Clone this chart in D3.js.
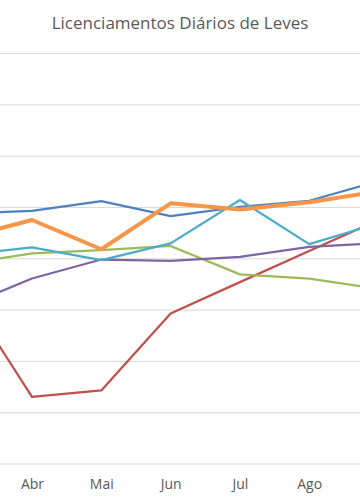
<!DOCTYPE html>
<html>
<head>
<meta charset="utf-8">
<script src="https://cdn.jsdelivr.net/npm/d3@7"></script>
<style>
  body { margin: 0; background: #fff; }
  svg { display: block; font-family: "Open Sans", "Liberation Sans", sans-serif; }
</style>
</head>
<body>
<div id="chart"></div>
<script>
// months (Mar and Set fall just outside the visible crop)
const months = ["Mar", "Abr", "Mai", "Jun", "Jul", "Ago", "Set"];
const visibleMonths = ["Abr", "Mai", "Jun", "Jul", "Ago"];

// series values
const serieAzul    = [4870, 4925, 5115, 4820, 5000, 5120, 5505];
const serieVermelha = [3400, 1300, 1425, 2925, 3535, 4140, 4745];
const serieVerde   = [3885, 4095, 4160, 4240, 3685, 3605, 3405];
const serieRoxa    = [3045, 3605, 3975, 3950, 4025, 4220, 4295];
const serieAqua    = [4070, 4210, 3965, 4290, 5135, 4275, 4680];
const serieLaranja = [4395, 4745, 4175, 5070, 4950, 5090, 5305];

const yTicks = [0, 1000, 2000, 3000, 4000, 5000, 6000, 7000, 8000];

function getConfig(){
    let width = 360, height = 504;
    let plot = {};
    plot.top = 53;
    plot.bottom = 463.5;
    plot.xFirst = -37.3;   // position of "Mar"
    plot.xLast = 378.5;    // position of "Set"
    plot.gridColor = "#d9d9d9";
    plot.textColor = "#595959";
    return {width, height, plot};
}

function draw(){
    const config = getConfig();
    const series = [
        {name: "azul", values: serieAzul, color: "#4f81bd", w: 2.25},
        {name: "vermelha", values: serieVermelha, color: "#c0504d", w: 2.25},
        {name: "verde", values: serieVerde, color: "#9bbb59", w: 2.25},
        {name: "roxa", values: serieRoxa, color: "#8064a2", w: 2.25},
        {name: "aqua", values: serieAqua, color: "#4bacc6", w: 2.25},
        {name: "laranja", values: serieLaranja, color: "#f79646", w: 4}
    ];

    let svg = d3.select("#chart").append("svg")
        .attr("width", config.width)
        .attr("height", config.height);

    let x = d3.scalePoint()
        .domain(months)
        .range([config.plot.xFirst, config.plot.xLast]);

    let y = d3.scaleLinear()
        .domain([0, 8000])
        .range([config.plot.bottom, config.plot.top]);

    // gridlines
    svg.append("g")
        .call(d3.axisLeft(y).tickValues(yTicks).tickSize(-config.width).tickFormat(""))
        .call(g => g.select(".domain").remove())
        .call(g => g.selectAll(".tick line")
            .attr("stroke", config.plot.gridColor)
            .attr("stroke-width", 1));

    // month labels (only the ones inside the crop)
    let xAx = svg.append("g")
        .attr("transform", `translate(0, ${config.plot.bottom})`)
        .call(d3.axisBottom(x).tickValues(visibleMonths).tickSize(0).tickPadding(16));
    xAx.select(".domain").remove();
    xAx.selectAll(".tick text")
        .attr("font-family", "'Open Sans', sans-serif")
        .attr("font-size", 14)
        .attr("fill", config.plot.textColor);

    let line = d3.line()
        .x((d, i) => x(months[i]))
        .y(d => y(d));

    svg.append("g").selectAll("path")
        .data(series)
        .join("path")
        .attr("d", d => line(d.values))
        .attr("fill", "none")
        .attr("stroke", d => d.color)
        .attr("stroke-width", d => d.w)
        .attr("stroke-linejoin", "round")
        .attr("stroke-linecap", "round");

    svg.append("text")
        .attr("x", 180)
        .attr("y", 29)
        .attr("text-anchor", "middle")
        .attr("font-size", 17)
        .attr("fill", config.plot.textColor)
        .text("Licenciamentos Diários de Leves");
}

window.addEventListener("load", draw);
</script>
</body>
</html>
